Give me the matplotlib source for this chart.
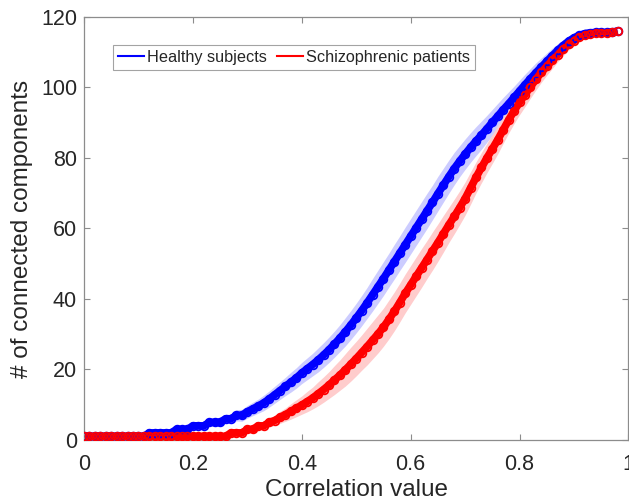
import matplotlib

matplotlib.use("Agg")
import matplotlib.pyplot as plt
import numpy as np
from matplotlib.lines import Line2D

# correlation thresholds (x axis)
thresholds = [
    0.00, 0.01, 0.02, 0.03, 0.04, 0.05, 0.06, 0.07, 0.08, 0.09,
    0.10, 0.11, 0.12, 0.13, 0.14, 0.15, 0.16, 0.17, 0.18, 0.19,
    0.20, 0.21, 0.22, 0.23, 0.24, 0.25, 0.26, 0.27, 0.28, 0.29,
    0.30, 0.31, 0.32, 0.33, 0.34, 0.35, 0.36, 0.37, 0.38, 0.39,
    0.40, 0.41, 0.42, 0.43, 0.44, 0.45, 0.46, 0.47, 0.48, 0.49,
    0.50, 0.51, 0.52, 0.53, 0.54, 0.55, 0.56, 0.57, 0.58, 0.59,
    0.60, 0.61, 0.62, 0.63, 0.64, 0.65, 0.66, 0.67, 0.68, 0.69,
    0.70, 0.71, 0.72, 0.73, 0.74, 0.75, 0.76, 0.77, 0.78, 0.79,
    0.80, 0.81, 0.82, 0.83, 0.84, 0.85, 0.86, 0.87, 0.88, 0.89,
    0.90, 0.91, 0.92, 0.93, 0.94, 0.95, 0.96, 0.97, 0.98,
]

# number of connected components, healthy subjects
healthy = [
    1, 1, 1, 1, 1, 1, 1, 1, 1, 1,
    1, 1, 2, 2, 2, 2, 2, 3, 3, 3,
    4, 4, 4, 5, 5, 5, 6, 6, 7, 7,
    8, 8.8, 9.6, 10.5, 11.6, 12.8, 14.0, 15.2, 16.4, 17.6,
    19.0, 20.2, 21.4, 22.7, 24.1, 25.6, 27.2, 28.9, 30.7, 32.6,
    34.6, 36.7, 38.9, 41.2, 43.5, 45.8, 48.2, 50.6, 53.0, 55.4,
    57.8, 60.2, 62.6, 65.0, 67.4, 69.9, 72.3, 74.7, 77.0, 79.1,
    81.1, 83.0, 84.8, 86.5, 88.3, 90.1, 91.9, 93.7, 95.4, 97.2,
    99.0, 100.8, 102.5, 104.2, 105.8, 107.4, 109.0, 110.5, 111.9, 113.1,
    114.1, 114.8, 115.3, 115.5, 115.6, 115.6, 115.6, 115.7, 116,
]
healthy_err = [
    0, 0, 0, 0, 0, 0, 0, 0, 0, 0,
    0, 0, 0.5, 0.5, 0.5, 0.5, 0.6, 0.6, 0.7, 0.7,
    0.8, 0.8, 1.0, 1.1, 1.2, 1.2, 1.3, 1.4, 1.6, 1.7,
    1.8, 1.9, 2.0, 2.2, 2.3, 2.4, 2.5, 2.6, 2.8, 2.9,
    3.0, 3.1, 3.2, 3.4, 3.5, 3.6, 3.7, 3.8, 4.0, 4.1,
    4.2, 4.3, 4.4, 4.6, 4.7, 4.8, 4.8, 4.9, 4.9, 5.0,
    5.0, 5.0, 5.0, 5.0, 4.9, 4.9, 4.8, 4.7, 4.6, 4.4,
    4.3, 4.2, 4.1, 4.0, 3.8, 3.7, 3.6, 3.5, 3.4, 3.2,
    3.1, 3.0, 2.9, 2.8, 2.6, 2.4, 2.2, 1.9, 1.7, 1.4,
    1.2, 1.0, 0.7, 0.6, 0.5, 0.5, 0.4, 0.4, 0.4,
]

# number of connected components, schizophrenic patients
patients = [
    1, 1, 1, 1, 1, 1, 1, 1, 1, 1,
    1, 1, 1, 1, 1, 1, 1, 1, 1, 1,
    1, 1, 1, 1, 1, 1, 1, 2, 2, 2,
    3, 3, 4, 4, 5, 5.5, 6.4, 7.2, 8.1, 9.0,
    9.9, 10.9, 11.9, 13.1, 14.3, 15.6, 17.0, 18.4, 19.9, 21.5,
    23.1, 24.8, 26.5, 28.3, 30.1, 32.0, 34.2, 36.5, 39.0, 41.6,
    44.0, 46.4, 48.8, 51.2, 53.6, 56.0, 58.5, 61.0, 63.4, 65.9,
    68.5, 71.5, 74.5, 77.3, 80.0, 82.6, 85.2, 88.0, 90.8, 93.4,
    95.8, 98.0, 100.2, 102.3, 104.3, 106.0, 107.7, 109.3, 110.8, 112.2,
    113.3, 114.2, 114.8, 115.2, 115.4, 115.5, 115.5, 115.6, 116,
]
patients_err = [
    0, 0, 0, 0, 0, 0, 0, 0, 0, 0,
    0, 0, 0, 0, 0, 0, 0, 0, 0, 0,
    0, 0, 0, 0, 0, 0, 0, 0.5, 0.6, 0.7,
    0.8, 1.0, 1.1, 1.2, 1.3, 1.4, 1.7, 1.9, 2.2, 2.4,
    2.6, 2.9, 3.1, 3.4, 3.6, 3.8, 4.1, 4.3, 4.6, 4.8,
    4.9, 5.0, 5.2, 5.3, 5.4, 5.4, 5.5, 5.5, 5.5, 5.5,
    5.5, 5.5, 5.5, 5.4, 5.4, 5.3, 5.2, 5.0, 4.9, 4.8,
    4.7, 4.6, 4.4, 4.3, 4.2, 4.1, 4.0, 3.8, 3.7, 3.6,
    3.5, 3.4, 3.2, 3.0, 2.8, 2.5, 2.3, 2.0, 1.8, 1.6,
    1.3, 1.1, 0.8, 0.7, 0.6, 0.5, 0.4, 0.4, 0.4,
]

labels = ["Healthy subjects", "Schizophrenic patients"]
xticks = [0, 0.2, 0.4, 0.6, 0.8, 1]
xtick_labels = ["0", "0.2", "0.4", "0.6", "0.8", "1"]
yticks = [0, 20, 40, 60, 80, 100, 120]

plt.rcParams["font.family"] = ["Liberation Sans", "DejaVu Sans"]
text_col = "#262626"
spine_col = "#8c8c8c"

fig = plt.figure(figsize=(6.29, 5.01), dpi=100)
ax = fig.add_axes([0.1335, 0.1218, 0.8657, 0.8443])

x = np.array(thresholds)
for vals, err, col, light in [
    (healthy, healthy_err, "#0000ff", "#ccccff"),
    (patients, patients_err, "#ff0000", "#ffcccc"),
]:
    y = np.array(vals)
    e = np.array(err)
    ax.fill_between(x, y - e, y + e, color=light, linewidth=0, zorder=1)
    ax.plot(x, y, color=col, linewidth=5.5, solid_capstyle="butt", zorder=2)
    ax.plot(x, y, "o", color=col, markersize=5.5, markerfacecolor="none",
            markeredgewidth=1.3, zorder=3)

ax.set_xlim(0, 1)
ax.set_ylim(0, 120)
ax.set_xticks(xticks)
ax.set_xticklabels(xtick_labels)
ax.set_yticks(yticks)
ax.tick_params(direction="in", length=4, width=0.8, color=spine_col,
               labelsize=15.5, labelcolor=text_col, top=True, right=True)
ax.tick_params(axis="x", pad=10)
ax.tick_params(axis="y", pad=5)
for s in ax.spines.values():
    s.set_color(spine_col)
    s.set_linewidth(0.9)

ax.set_xlabel("Correlation value", fontsize=17.5, color=text_col, labelpad=3)
ax.set_ylabel("# of connected components", fontsize=17.5, color=text_col, labelpad=6)

handles = [
    Line2D([], [], color="#0000ff", linewidth=1.5),
    Line2D([], [], color="#ff0000", linewidth=1.5),
]
leg = ax.legend(handles, labels, loc="upper left", ncol=2, fontsize=11.7,
                bbox_to_anchor=(0.053, 0.934), frameon=True, fancybox=False,
                handlelength=1.6, handletextpad=0.2, columnspacing=0.6,
                borderpad=0.3, borderaxespad=0)
leg.get_frame().set_edgecolor(spine_col)
leg.get_frame().set_linewidth(0.8)
for t in leg.get_texts():
    t.set_color(text_col)

fig.savefig("out.png", dpi=100)
